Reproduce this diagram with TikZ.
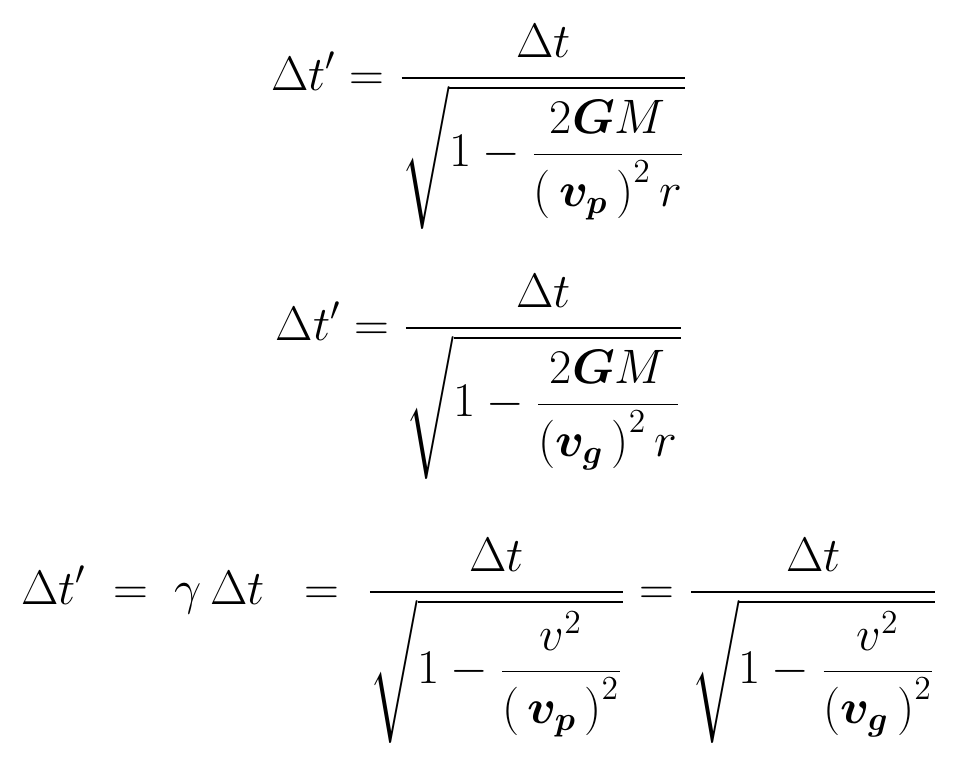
\documentclass[tikz,border=0pt]{standalone}
\usepackage{amsmath,amssymb}
\tikzset{eq/.style={inner sep=0pt,font=\fontsize{17}{20}\selectfont}}
\begin{document}
\begin{tikzpicture}[x=1pt,y=-1pt]
\useasboundingbox[fill=white] (0,0) rectangle (967,777);
\node[eq] (e1) at (480,127) {\scalebox{2.8}{$\displaystyle \Delta t' = \frac{\Delta t}{\sqrt{1-\dfrac{2\boldsymbol{G}M}{\left(\,\boldsymbol{v_p}\,\right)^2 r}}}$}};
\node[eq] (e2) at (480,377) {\scalebox{2.8}{$\displaystyle \Delta t' = \frac{\Delta t}{\sqrt{1-\dfrac{2\boldsymbol{G}M}{\left(\boldsymbol{v_g}\,\right)^2 r}}}$}};
\node[eq] (e3) at (480,641) {\scalebox{2.8}{$\displaystyle \Delta t' \;=\; \gamma\,\Delta t \;\;=\; \frac{\Delta t}{\sqrt{1-\dfrac{v^2}{\left(\,\boldsymbol{v_p}\,\right)^2}}} = \frac{\Delta t}{\sqrt{1-\dfrac{v^2}{\left(\boldsymbol{v_g}\,\right)^2}}}$}};
\end{tikzpicture}
\end{document}
